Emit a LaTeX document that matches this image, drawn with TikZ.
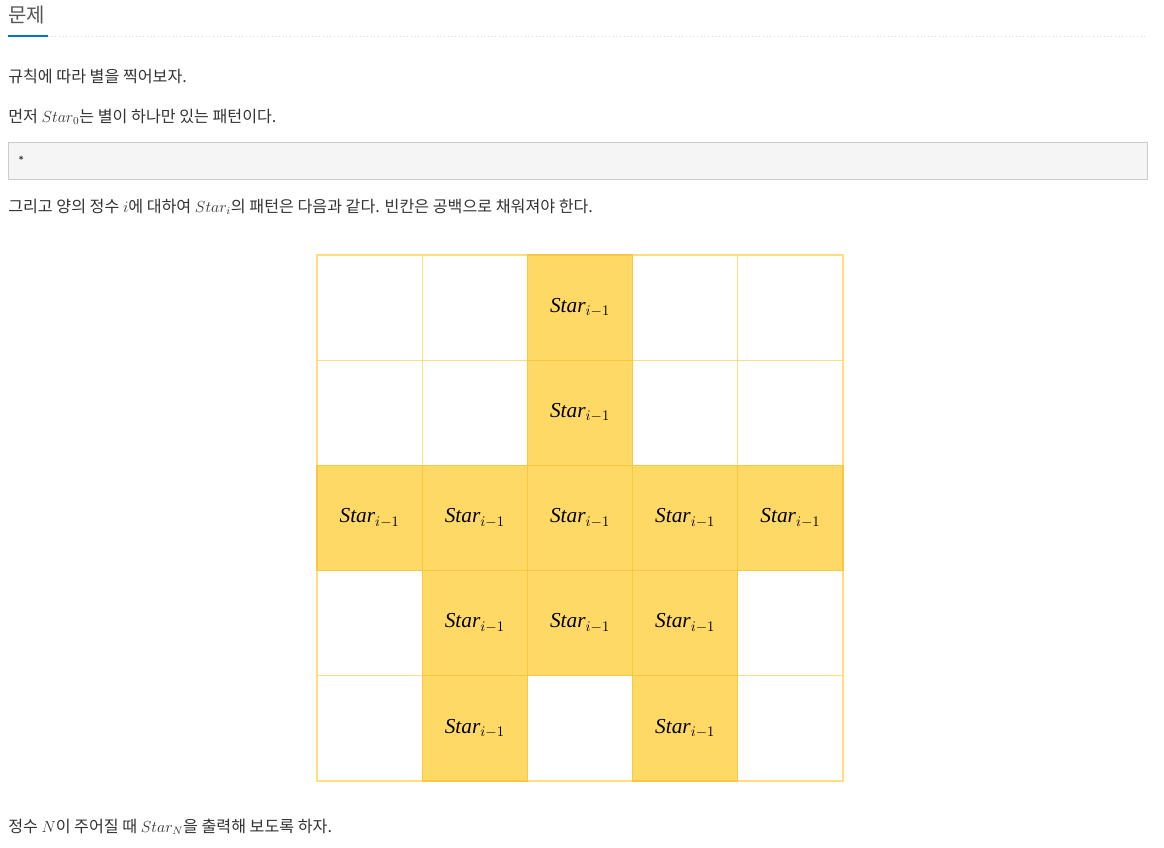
\documentclass[tikz,border=0pt]{standalone}
\usepackage{fontspec}
\setmainfont{Noto Sans CJK KR}
\newfontfamily\cellfont{Liberation Serif}
\usetikzlibrary{positioning}
\definecolor{txt}{HTML}{333333}
\definecolor{head}{HTML}{555555}
\definecolor{blueline}{HTML}{0076C0}
\definecolor{boxfill}{HTML}{F5F5F5}
\definecolor{boxline}{HTML}{CCCCCC}
\definecolor{gridline}{HTML}{FFDD80}
\definecolor{starfill}{HTML}{FFD966}
\definecolor{starline}{HTML}{F8C843}

\begin{document}
\begin{tikzpicture}[
	x=0.75pt, y=-0.75pt,
	Line/.style={anchor=west, inner sep=0pt, text=txt, font=\fontsize{12.1}{14}\selectfont},
	Cell/.style={draw=gridline, line width=0.9pt, minimum size=78.9pt, outer sep=0pt, inner sep=0pt},
	StarCell/.style={Cell, draw=starline, fill=starfill,
		font=\cellfont\fontsize{16}{18}\selectfont},
	]
	\useasboundingbox[fill=white] (0,0) rectangle (1164,848);
	% heading
	\node [anchor=west, inner sep=0pt, text=head, font=\fontsize{15}{18}\selectfont] (title) at (8,15) {문제};
	\draw [boxline!70, dotted, line width=0.75pt] (48,36.5) -- (1147,36.5);
	\draw [blueline, line width=1.5pt] (8,36.5) -- (48,36.5);
	% text
	\node [Line] (rule) at (8,76) {규칙에 따라 별을 찍어보자.};
	\node [Line] (first) at (8,117) {먼저 $Star_0$는 별이 하나만 있는 패턴이다.};
	\draw [fill=boxfill, draw=boxline, line width=0.75pt] (8,143) rectangle (1147,180);
	\node [anchor=west, inner sep=0pt, text=txt, font=\ttfamily\footnotesize] (zero) at (18,159) {*};
	\node [Line] (then) at (8,207) {그리고 양의 정수 $i$에 대하여 $Star_i$의 패턴은 다음과 같다. 빈칸은 공백으로 채워져야 한다.};
	% grid
	\foreach \r in {0,...,4}
	\foreach \c in {0,...,4}
	\node [Cell] (c-\r-\c) at (369.6+105.2*\c, 307.6+105.2*\r) {};
	\foreach \r/\c in {0/2,1/2,2/0,2/1,2/2,2/3,2/4,3/1,3/2,3/3,4/1,4/3}
	\node [StarCell] (s-\r-\c) at (c-\r-\c) {\textit{Star}$_{i-1}$};
	\node [Line] (last) at (8,827) {정수 $N$이 주어질 때 $Star_N$을 출력해 보도록 하자.};
\end{tikzpicture}
\end{document}
